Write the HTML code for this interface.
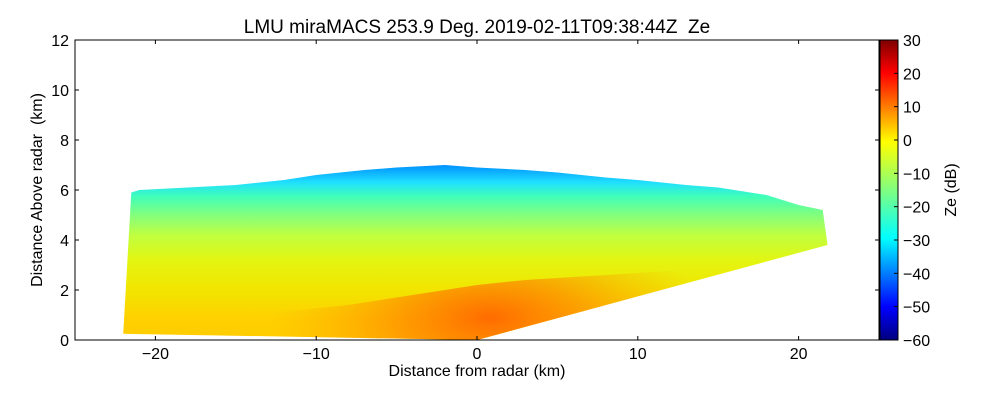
<!DOCTYPE html>
<html><head><meta charset="utf-8"><style>
body{margin:0;background:#fff;}
svg{display:block;font-family:"Liberation Sans",sans-serif;}
</style></head><body>
<svg id="c" width="1000" height="400">
<defs>
<linearGradient id="ze" gradientUnits="userSpaceOnUse" x1="0" y1="340" x2="0" y2="165">
<stop offset="0" stop-color="#ffcc00"/>
<stop offset="0.12" stop-color="#ffd000"/>
<stop offset="0.28" stop-color="#f2e400"/>
<stop offset="0.45" stop-color="#e4f510"/>
<stop offset="0.6" stop-color="#c0ff40"/>
<stop offset="0.72" stop-color="#80ff80"/>
<stop offset="0.82" stop-color="#40ffb8"/>
<stop offset="0.9" stop-color="#20e0ff"/>
<stop offset="1" stop-color="#0090ff"/>
</linearGradient>
<linearGradient id="jet" x1="0" y1="1" x2="0" y2="0">
<stop offset="0" stop-color="#00007f"/>
<stop offset="0.11" stop-color="#0000ff"/>
<stop offset="0.34" stop-color="#00ffff"/>
<stop offset="0.5" stop-color="#80ff80"/>
<stop offset="0.66" stop-color="#ffff00"/>
<stop offset="0.89" stop-color="#ff0000"/>
<stop offset="1" stop-color="#7f0000"/>
</linearGradient>
<radialGradient id="hot" gradientUnits="userSpaceOnUse" cx="490" cy="318" r="220" gradientTransform="translate(490 318) scale(1 0.45) translate(-490 -318)">
<stop offset="0" stop-color="#ff6000" stop-opacity="0.9"/>
<stop offset="0.4" stop-color="#ff7800" stop-opacity="0.6"/>
<stop offset="1" stop-color="#ffa000" stop-opacity="0"/>
</radialGradient>
</defs>
<g id="plot"></g>
</svg>
<script>
// echo boundary (km)
const topDist = [-21.5,-21,-18,-15,-12,-10,-7,-5,-2,0,3,5,8,10,13,15,18,20,21.5];
const topHeight = [5.9,6.0,6.1,6.2,6.4,6.6,6.8,6.9,7.0,6.9,6.8,6.7,6.5,6.4,6.2,6.1,5.8,5.4,5.2];
const leftEdge = [[-22,0.25],[-21.5,5.9]];
const rightEdge = [[21.8,3.8],[0,0]];
const hotDist = [-14,-8,-3,0,3,8,13,18];
const hotTop = [1.0,1.4,1.9,2.2,2.4,2.6,2.8,3.3];
const xTicks = [-20,-10,0,10,20];
const yTicks = [0,2,4,6,8,10,12];
const cbTicks = [-60,-50,-40,-30,-20,-10,0,10,20,30];

const X0=75,X1=879,Y0=340,Y1=40;
const sx=d=>X0+(d+25)/50*(X1-X0);
const sy=h=>Y0-h/12*(Y0-Y1);
const NS="http://www.w3.org/2000/svg";
const g=document.getElementById('plot');
function mk(t,a){const e=document.createElementNS(NS,t);for(const k in a)e.setAttribute(k,a[k]);g.appendChild(e);return e;}

let pts=[[leftEdge[0][0],leftEdge[0][1]],[leftEdge[1][0],leftEdge[1][1]]];
topDist.forEach((d,i)=>pts.push([d,topHeight[i]]));
pts.push(rightEdge[0],rightEdge[1]);
let echo=mk('polygon',{points:pts.map(p=>sx(p[0])+','+sy(p[1])).join(' '),fill:'url(#ze)'});


let hp=[];hotDist.forEach((d,i)=>hp.push([d,hotTop[i]]));
for(let i=hotDist.length-1;i>=0;i--){const d=hotDist[i];hp.push([d,d>=0?d*3.8/21.8:-d*0.25/22]);}
let hot=mk('polygon',{points:hp.map(p=>sx(p[0])+','+sy(p[1])).join(' '),fill:'url(#hot)'});



let fr=mk('rect',{x:X0,y:Y1,width:X1-X0,height:Y0-Y1,fill:'none',stroke:'#000','stroke-width':1});


xTicks.forEach(t=>{const x=sx(t);
mk('line',{x1:x,x2:x,y1:Y0,y2:Y0-4,stroke:'#000'});mk('line',{x1:x,x2:x,y1:Y1,y2:Y1+4,stroke:'#000'});
const l=mk('text',{x:x,y:Y0+19,'text-anchor':'middle','font-size':16});l.textContent=t<0?'\u2212'+(-t):t;
});
yTicks.forEach(t=>{const y=sy(t);
mk('line',{x1:X0,x2:X0+4,y1:y,y2:y,stroke:'#000'});mk('line',{x1:X1,x2:X1-4,y1:y,y2:y,stroke:'#000'});
const l=mk('text',{x:X0-6,y:y+6,'text-anchor':'end','font-size':16});l.textContent=t;
});

const CX=880,CW=18;
let cb=mk('rect',{x:CX,y:Y1,width:CW,height:Y0-Y1,fill:'url(#jet)',stroke:'#000'});


cbTicks.forEach(t=>{const y=Y0-(t+60)/90*(Y0-Y1);
mk('line',{x1:CX+CW-4,x2:CX+CW,y1:y,y2:y,stroke:'#000'});
const l=mk('text',{x:CX+CW+5,y:y+6,'font-size':16});l.textContent=t<0?'\u2212'+(-t):t;
});

function txt(s,a,name){const e=mk('text',a);e.textContent=s;return e;}
txt('LMU miraMACS 253.9 Deg. 2019-02-11T09:38:44Z\u00a0\u00a0Ze',{x:477,y:33,'text-anchor':'middle','font-size':19},'chart-title');
txt('Distance from radar (km)',{x:477,y:376,'text-anchor':'middle','font-size':16},'x-axis-title');
txt('Distance Above radar\u00a0\u00a0(km)',{x:0,y:0,'text-anchor':'middle','font-size':16,transform:'translate(42,190) rotate(-90)'},'y-axis-title');
txt('Ze (dB)',{x:0,y:0,'text-anchor':'middle','font-size':16,transform:'translate(956,190) rotate(-90)'},'colorbar-title');
</script>
</body></html>
